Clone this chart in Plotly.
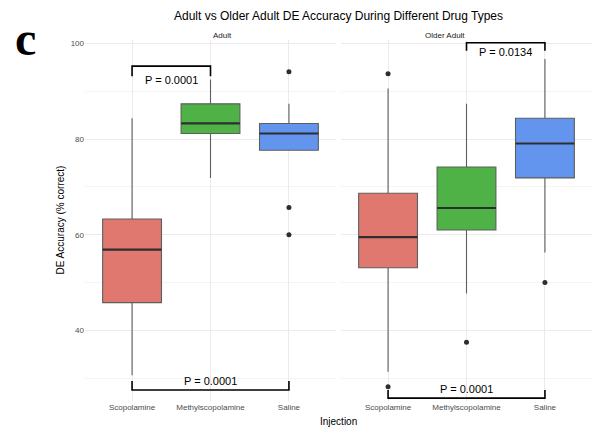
import plotly.graph_objects as go

# ---------------- data ----------------
panels = ["Adult", "Older Adult"]
injections = ["Scopolamine", "Methylscopolamine", "Saline"]
box_colors = ["#E07870", "#4FB246", "#6495EE"]

adult_q1 = [45.8, 81.2, 77.7]
adult_median = [56.9, 83.3, 81.2]
adult_q3 = [63.3, 87.4, 83.3]
adult_lower = [30.6, 71.9, 77.7]
adult_upper = [84.4, 92.5, 87.4]
adult_outliers = [[], [], [94.1, 65.7, 60.0]]

older_q1 = [53.1, 61.0, 71.9]
older_median = [59.5, 65.6, 79.1]
older_q3 = [68.7, 74.2, 84.4]
older_lower = [31.3, 47.7, 56.3]
older_upper = [90.6, 87.4, 96.8]
older_outliers = [[93.7, 28.2], [37.5], [50.0]]

bracket_panel = ["Adult", "Adult", "Older Adult", "Older Adult"]
bracket_from = ["Scopolamine", "Scopolamine", "Methylscopolamine", "Scopolamine"]
bracket_to = ["Methylscopolamine", "Saline", "Saline", "Saline"]
bracket_line = [95.3, 27.5, 100.2, 25.8]
bracket_tip = [93.2, 29.4, 98.5, 27.5]
bracket_text_y = [92.4, 29.3, 98.3, 27.7]
bracket_label = ["P = 0.0001", "P = 0.0001", "P = 0.0134", "P = 0.0001"]

y_ticks = [40, 60, 80, 100]

# ---------------- figure ----------------
W, H = 594, 427
ML, MR, MT, MB = 85, 2, 40, 26
box_w = 0.75

fig = go.Figure()
stats = {
    "Adult": (adult_q1, adult_median, adult_q3, adult_lower, adult_upper, adult_outliers),
    "Older Adult": (older_q1, older_median, older_q3, older_lower, older_upper, older_outliers),
}
axes = {"Adult": ("x", "y"), "Older Adult": ("x2", "y2")}

for p in panels:
    q1, med, q3, lo, up, outl = stats[p]
    xa, ya = axes[p]
    for i, inj in enumerate(injections):
        xpos = i + 1
        fig.add_trace(go.Box(
            x=[xpos], q1=[q1[i]], median=[med[i]], q3=[q3[i]],
            lowerfence=[lo[i]], upperfence=[up[i]],
            width=box_w, whiskerwidth=0, fillcolor=box_colors[i],
            line=dict(color="#5E5E5E", width=1.1), boxpoints=False,
            xaxis=xa, yaxis=ya, showlegend=False, hoverinfo="skip"))
        fig.add_trace(go.Scatter(
            x=[xpos - box_w / 2, xpos + box_w / 2], y=[med[i], med[i]],
            mode="lines", line=dict(color="#2E2E2E", width=2.2),
            xaxis=xa, yaxis=ya, showlegend=False, hoverinfo="skip"))
        if outl[i]:
            fig.add_trace(go.Scatter(
                x=[xpos] * len(outl[i]), y=outl[i], mode="markers",
                marker=dict(color="#2E2E2E", size=5),
                xaxis=xa, yaxis=ya, showlegend=False, hoverinfo="skip"))

for k in range(len(bracket_panel)):
    xa, ya = axes[bracket_panel[k]]
    a = injections.index(bracket_from[k]) + 1
    b = injections.index(bracket_to[k]) + 1
    fig.add_trace(go.Scatter(
        x=[a, a, b, b],
        y=[bracket_tip[k], bracket_line[k], bracket_line[k], bracket_tip[k]],
        mode="lines", line=dict(color="#000000", width=1.6),
        cliponaxis=False, xaxis=xa, yaxis=ya, showlegend=False, hoverinfo="skip"))
    fig.add_annotation(
        x=(a + b) / 2, y=bracket_text_y[k], xref=xa, yref=ya,
        text=bracket_label[k], showarrow=False, yanchor="middle",
        font=dict(size=11, color="#000000"))

pw = W - ML - MR
ph = H - MT - MB
d1 = [0, (336 - ML) / pw]
d2 = [(341 - ML) / pw, 1]

yr = [25.2, 100.77]
xr = [0.4, 3.6]
gridc = "#EBEBEB"
minorc = "#F4F4F4"

common_x = dict(range=xr, tickvals=[1, 2, 3], ticktext=injections,
                showgrid=True, gridcolor=gridc, gridwidth=1, zeroline=False,
                showline=False, ticks="", tickfont=dict(size=8, color="#4D4D4D"),
                fixedrange=True)
common_y = dict(range=yr, tickvals=y_ticks, showgrid=True, gridcolor=gridc,
                gridwidth=1, zeroline=False, showline=False, ticks="",
                minor=dict(tickvals=[30, 50, 70, 90], showgrid=True,
                           gridcolor=minorc, gridwidth=1),
                tickfont=dict(size=8, color="#4D4D4D"), fixedrange=True)

fig.update_layout(
    width=W, height=H,
    margin=dict(l=ML, r=MR, t=MT, b=MB),
    paper_bgcolor="white", plot_bgcolor="white",
    font=dict(family="Liberation Sans, Arial, sans-serif"),
    xaxis=dict(domain=d1, anchor="y", **common_x),
    xaxis2=dict(domain=d2, anchor="y2", **common_x),
    yaxis=dict(anchor="x", **common_y),
    yaxis2=dict(anchor="x2", matches="y", showticklabels=False,
                **{k: v for k, v in common_y.items() if k not in ("tickfont",)}),
    showlegend=False,
)

def px_to_paper_y(py):
    return (H - MB - py) / ph

def px_to_paper_x(px):
    return (px - ML) / pw

# strip labels
fig.add_annotation(x=(d1[0] + d1[1]) / 2, y=px_to_paper_y(35.5), xref="paper", yref="paper",
                   text="Adult", showarrow=False, yanchor="middle",
                   font=dict(size=8, color="#1A1A1A"))
fig.add_annotation(x=(d2[0] + d2[1]) / 2, y=px_to_paper_y(35.5), xref="paper", yref="paper",
                   text="Older Adult", showarrow=False, yanchor="middle",
                   font=dict(size=8, color="#1A1A1A"))
# title
fig.add_annotation(x=px_to_paper_x(338), y=px_to_paper_y(16), xref="paper", yref="paper",
                   text="Adult vs Older Adult DE Accuracy During Different Drug Types",
                   showarrow=False, yanchor="middle",
                   font=dict(size=12, color="#000000"))
# axis titles
fig.add_annotation(x=px_to_paper_x(60), y=0.5, xref="paper", yref="paper",
                   text="DE Accuracy (% correct)", textangle=-90, showarrow=False,
                   xanchor="center", yanchor="middle",
                   font=dict(size=10, color="#000000"))
fig.add_annotation(x=px_to_paper_x(338), y=px_to_paper_y(421.5), xref="paper", yref="paper",
                   text="Injection", showarrow=False, yanchor="middle",
                   font=dict(size=10, color="#000000"))
# panel letter
fig.add_annotation(x=px_to_paper_x(25), y=px_to_paper_y(38), xref="paper", yref="paper",
                   text="<b>c</b>", showarrow=False, xanchor="center", yanchor="middle",
                   font=dict(size=48, color="#000000",
                             family="Liberation Serif, DejaVu Serif, serif"))

fig.write_html("out.html", config={"displayModeBar": False},
               post_script="document.body.style.margin='0px';document.body.style.overflow='hidden';")
